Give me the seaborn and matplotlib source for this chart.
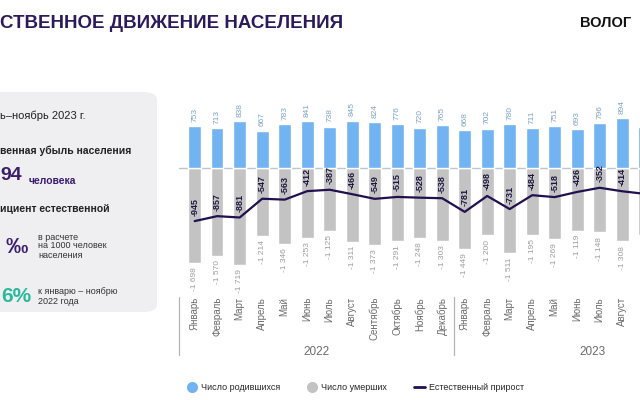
import pandas as pd
import matplotlib.pyplot as plt
import seaborn as sns
from matplotlib.patches import FancyBboxPatch
from matplotlib.lines import Line2D
import matplotlib.transforms as mtransforms

# Data (2022 Jan – 2023 Sep, last month cut off at the edge)
months = ['Январь', 'Февраль', 'Март', 'Апрель', 'Май', 'Июнь', 'Июль', 'Август',
          'Сентябрь', 'Октябрь', 'Ноябрь', 'Декабрь',
          'Январь', 'Февраль', 'Март', 'Апрель', 'Май', 'Июнь', 'Июль', 'Август', 'Сентябрь']
births = [753, 713, 838, 667, 783, 841, 738, 845, 824, 776, 720, 765,
          668, 702, 780, 711, 751, 693, 796, 894, 730]
deaths = [1698, 1570, 1719, 1214, 1346, 1253, 1125, 1311, 1373, 1291, 1248, 1303,
          1449, 1200, 1511, 1195, 1269, 1119, 1148, 1308, 1190]
natural = [-945, -857, -881, -547, -563, -412, -387, -466, -549, -515, -528, -538,
           -781, -498, -731, -484, -518, -426, -352, -414, -460]
years = ['2022', '2023']

df = pd.DataFrame({'idx': range(len(months)), 'month': months,
                   'births': births, 'deaths': [-d for d in deaths], 'natural': natural})

BLUE = '#72b3f2'
GRAY = '#c3c3c3'
NAVY = '#22104f'
PURPLE = '#3a1d6e'
TEAL = '#2bb99c'

sns.set_style('white')
plt.rcParams['font.family'] = ['Liberation Sans', 'DejaVu Sans']

W, H = 640, 400
fig = plt.figure(figsize=(6.4, 4), dpi=100)


def fx(px):
    return px / W


def fy(py):
    return 1 - py / H


# chart axes
ax_l, ax_r, ax_t, ax_b = 179, 640, 90, 290
ax = fig.add_axes([fx(ax_l), fy(ax_b), fx(ax_r - ax_l), (ax_b - ax_t) / H])
zero_px, unit = 168, 17.8
sns.barplot(data=df, x='idx', y='deaths', color=GRAY, width=0.56, saturation=1,
            errorbar=None, ax=ax, zorder=2)
sns.barplot(data=df, x='idx', y='births', color=BLUE, width=0.56, saturation=1,
            errorbar=None, ax=ax, zorder=2)
sns.lineplot(data=df, x='idx', y='natural', color=NAVY, linewidth=1.6, ax=ax, zorder=3)
ax.axhline(0, color='#b9c6d3', linewidth=1, zorder=1)

ax.set_xlim((ax_l - 194.7) / 22.5, (ax_r - 194.7) / 22.5)
ax.set_ylim(-(ax_b - zero_px) * unit, (zero_px - ax_t) * unit)
for s in ax.spines.values():
    s.set_visible(False)
ax.set_yticks([])
ax.set_xticks(range(20))
ax.set_xticklabels(months[:20], rotation=90, fontsize=7, color='#6b6b6b')
ax.tick_params(axis='x', length=0, pad=5)
ax.set_xlabel('')
ax.set_ylabel('')


def fmt(v):
    return f'{v:,}'.replace(',', ' ')


for i, row in df.iterrows():
    ax.annotate(str(row['births']), (i, row['births']), xytext=(0, 3), textcoords='offset points',
                rotation=90, ha='center', va='bottom', fontsize=6, color='#7aa3c4',
                annotation_clip=True)
    ax.annotate(fmt(row['deaths']), (i, row['deaths']), xytext=(0, -3), textcoords='offset points',
                rotation=90, ha='center', va='top', fontsize=6, color='#9c9c9c',
                annotation_clip=True)
    ax.annotate(str(row['natural']), (i, row['natural']), xytext=(0, 4), textcoords='offset points',
                rotation=90, ha='center', va='bottom', fontsize=6.5, fontweight='bold',
                color='#1f1640', zorder=4, annotation_clip=True)

# year separators and labels below the month names
tr = mtransforms.blended_transform_factory(ax.transData, ax.transAxes)
for xs in [ax.get_xlim()[0] + 0.02, 11.52]:
    ax.plot([xs, xs], [-0.035, -0.325], transform=tr, color='#b5b5b5', lw=0.9, clip_on=False)
ax.text(5.4, -0.31, years[0], transform=tr, ha='center', va='center', fontsize=8.5, color='#6b6b6b')
ax.text(17.7, -0.31, years[1], transform=tr, ha='center', va='center', fontsize=8.5, color='#6b6b6b')

# title and header
fig.text(fx(0), fy(23), 'СТВЕННОЕ ДВИЖЕНИЕ НАСЕЛЕНИЯ', fontsize=13.5, fontweight='bold',
         color='#2d1a5c', va='center', ha='left')
fig.text(fx(580), fy(23), 'ВОЛОГ', fontsize=10.5, fontweight='bold', color='#111111',
         va='center', ha='left')

# left info panel
panel = FancyBboxPatch((fx(-20), fy(312)), fx(177), (312 - 92) / H,
                       boxstyle='round,pad=0,rounding_size=0.02', transform=fig.transFigure,
                       facecolor='#efeff2', edgecolor='none', zorder=0)
fig.patches.append(panel)
fig.text(fx(0), fy(116), 'ь–ноябрь 2023 г.', fontsize=8, color='#222222', va='center')
fig.text(fx(0), fy(151), 'венная убыль населения', fontsize=7.5, fontweight='bold',
         color='#222222', va='center')
fig.text(fx(0), fy(176), '94', fontsize=14, fontweight='bold', color=PURPLE, va='center')
fig.text(fx(29), fy(184), 'человека', fontsize=7.5, fontweight='bold', color=PURPLE, va='baseline')
fig.text(fx(0), fy(209), 'ициент естественной', fontsize=7.5, fontweight='bold',
         color='#222222', va='center')
fig.text(fx(6), fy(247), '‰', fontsize=16, fontweight='bold', color=PURPLE, va='center')
for k, line in enumerate(['в расчете', 'на 1000 человек', 'населения']):
    fig.text(fx(38), fy(237 + 9 * k), line, fontsize=6.5, color='#333333', va='center')
fig.text(fx(1), fy(296), '6%', fontsize=15, fontweight='bold', color=TEAL, va='center')
fig.text(fx(38), fy(292), 'к январю – ноябрю', fontsize=6.5, color='#333333', va='center')
fig.text(fx(38), fy(301), '2022 года', fontsize=6.5, color='#333333', va='center')

# legend
handles = [Line2D([], [], marker='o', ls='', markersize=8, markerfacecolor=BLUE, markeredgecolor='none'),
           Line2D([], [], marker='o', ls='', markersize=8, markerfacecolor=GRAY, markeredgecolor='none'),
           Line2D([], [], color=NAVY, lw=2)]
fig.legend(handles, ['Число родившихся', 'Число умерших', 'Естественный прирост'],
           loc='center', bbox_to_anchor=(fx(355), fy(388)), ncol=3, frameon=False,
           fontsize=6.5, columnspacing=3.0, handletextpad=0.4, handlelength=1.2)

fig.savefig('out.png', dpi=100)
